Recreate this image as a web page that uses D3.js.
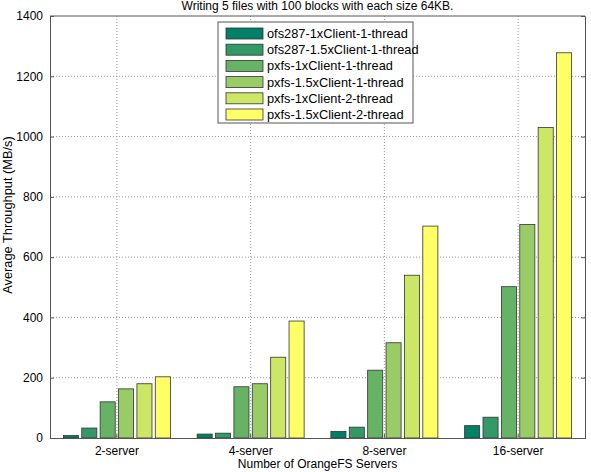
<!DOCTYPE html>
<html>
<head>
<meta charset="utf-8">
<script src="https://cdn.jsdelivr.net/npm/d3@7"></script>
<style>
  body { margin: 0; background: #fff; }
  svg text { font-family: "Liberation Sans", Arial, sans-serif; }
</style>
</head>
<body>
<script>
// données
const categories = ["2-server", "4-server", "8-server", "16-server"];
const series = ["ofs287-1xClient-1-thread", "ofs287-1.5xClient-1-thread", "pxfs-1xClient-1-thread",
  "pxfs-1.5xClient-1-thread", "pxfs-1xClient-2-thread", "pxfs-1.5xClient-2-thread"];
const ofs1x = [8, 13, 22, 41];
const ofs15x = [33, 16, 36, 69];
const pxfs1x = [120, 170, 225, 502];
const pxfs15x = [163, 180, 316, 708];
const pxfs1x2t = [180, 268, 540, 1030];
const pxfs15x2t = [203, 388, 703, 1278];
const yTicks = [0, 200, 400, 600, 800, 1000, 1200, 1400];
const colors = ["#008066", "#339966", "#66b366", "#99cc66", "#cce666", "#ffff66"];

const valeurs = [ofs1x, ofs15x, pxfs1x, pxfs15x, pxfs1x2t, pxfs15x2t];

let margin = { top: 16, right: 6, bottom: 34, left: 50 };
let width = 591 - margin.left - margin.right,
    height = 472 - margin.top - margin.bottom;

let svg = d3.select("body").append("svg")
    .attr("width", 591).attr("height", 472)
    .attr("font-family", "Liberation Sans, Arial, sans-serif")
    .append("g")
    .attr("transform", "translate(" + margin.left + "," + margin.top + ")");

let x = d3.scaleBand().domain(categories).range([0, width]);
let x1 = d3.scaleBand().domain(series).range([0, x.bandwidth() * 0.8]).paddingInner(0.18);
let y = d3.scaleLinear().domain([0, 1400]).range([height, 0]);

// grille pointillée
svg.append("g").selectAll("line").data(yTicks.slice(1, -1)).enter().append("line")
    .attr("x1", 0).attr("x2", width)
    .attr("y1", d => y(d)).attr("y2", d => y(d))
    .attr("stroke", "#999").attr("stroke-dasharray", "1,2");
svg.append("g").selectAll("line").data(categories).enter().append("line")
    .attr("x1", d => x(d) + x.bandwidth() / 2).attr("x2", d => x(d) + x.bandwidth() / 2)
    .attr("y1", 0).attr("y2", height)
    .attr("stroke", "#999").attr("stroke-dasharray", "1,2");

// barres
const groupes = svg.selectAll(".grp").data(categories).enter().append("g")
    .attr("transform", d => "translate(" + (x(d) + x.bandwidth() * 0.1) + ",0)");
groupes.selectAll("rect")
    .data((c, i) => series.map((s, j) => ({ s: s, j: j, v: valeurs[j][i] })))
    .enter().append("rect")
    .attr("x", d => x1(d.s))
    .attr("width", x1.bandwidth())
    .attr("y", d => y(d.v))
    .attr("height", d => height - y(d.v))
    .attr("fill", d => colors[d.j])
    .attr("stroke", "#333").attr("stroke-width", 0.8);

// axes
svg.append("g")
    .call(d3.axisLeft(y).tickValues(yTicks).tickFormat(d3.format("d")).tickSize(-4).tickPadding(7))
    .attr("font-family", null)
    .call(g => g.select(".domain").attr("stroke", "#555"))
    .call(g => g.selectAll(".tick line").attr("stroke", "#555"))
    .selectAll("text").style("font-size", "12px").attr("fill", "#000");
svg.append("g")
    .attr("transform", "translate(" + width + ",0)")
    .call(d3.axisRight(y).tickValues(yTicks).tickSize(-4).tickFormat(""))
    .call(g => g.select(".domain").attr("stroke", "#555"))
    .call(g => g.selectAll(".tick line").attr("stroke", "#555"));
svg.append("g")
    .attr("transform", "translate(0," + height + ")")
    .call(d3.axisBottom(x).tickSize(-4).tickPadding(8))
    .attr("font-family", null)
    .call(g => g.select(".domain").attr("stroke", "#555"))
    .call(g => g.selectAll(".tick line").attr("stroke", "#555"))
    .selectAll("text").style("font-size", "12px").attr("fill", "#000");
svg.append("line").attr("x1", 0).attr("x2", width).attr("y1", 0).attr("y2", 0).attr("stroke", "#555");

// légende
let leg = svg.append("g").attr("transform", "translate(" + (218 - margin.left) + "," + (22 - margin.top) + ")");
leg.append("rect").attr("width", 195).attr("height", 101).attr("fill", "#fff").attr("stroke", "#555");
series.forEach((s, i) => {
    leg.append("rect").attr("x", 8).attr("y", 6 + i * 16.2).attr("width", 37).attr("height", 11)
        .attr("fill", colors[i]).attr("stroke", "#333").attr("stroke-width", 0.8);
    leg.append("text").text(s).attr("x", 49).attr("y", 16 + i * 16.2).style("font-size", "12.8px");
});

// titres
svg.append("text").text("Writing 5 files with 100 blocks with each size 64KB.")
    .attr("x", width / 2).attr("y", -6).attr("text-anchor", "middle").style("font-size", "12px");
svg.append("text").text("Number of OrangeFS Servers")
    .attr("x", width / 2).attr("y", height + 30).attr("text-anchor", "middle").style("font-size", "12px");
svg.append("text").text("Average Throughput (MB/s)")
    .attr("transform", "rotate(-90)")
    .attr("x", -height / 2 + 12).attr("y", -38).attr("text-anchor", "middle").style("font-size", "12.8px");
</script>
</body>
</html>
